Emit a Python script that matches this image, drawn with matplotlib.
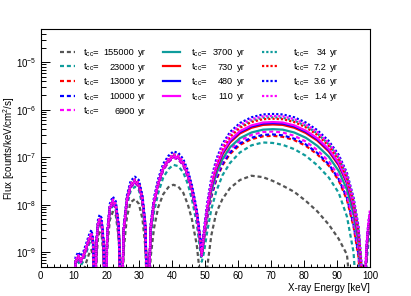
import numpy as np
import matplotlib
matplotlib.use("Agg")
import matplotlib.pyplot as plt
from matplotlib.lines import Line2D
from matplotlib.ticker import FixedLocator, LogFormatterMathtext, MultipleLocator, NullFormatter

plt.rcParams['font.family'] = ['Liberation Sans', 'DejaVu Sans']
plt.rcParams['mathtext.fontset'] = 'custom'
plt.rcParams['mathtext.rm'] = 'Liberation Sans'
plt.rcParams['mathtext.it'] = 'Liberation Sans:italic'
plt.rcParams['mathtext.bf'] = 'Liberation Sans:bold'

# energy grid (keV) the curves were read on
energy_kev = [9.6, 10.6, 11.4, 12.2, 13.0, 13.8, 14.6, 15.4, 15.9, 16.4,
              16.9, 17.4, 17.9, 18.5, 19.1, 19.6,
              20.2, 21.0, 21.9, 22.8, 23.7, 24.5,
              25.2, 26.2, 27.3, 28.6, 29.8, 30.9, 31.8, 32.5,
              33.4, 34.4, 35.7, 37.2, 38.8, 40.3, 41.8, 43.3, 44.7, 45.9, 47.4, 48.4, 48.9,
              49.6, 50.6, 51.8, 53.3, 55.2, 57.5, 60.5, 64.0, 67.5, 70.5, 73.5, 77.0,
              80.5, 84.0, 87.5, 90.5, 93.0, 95.0, 96.5, 97.5, 98.1, 98.9, 99.5, 100.0]

# log10 of flux, low-energy part (9.6 - 48.9 keV); -10.5 = zero (below the frame)
low_gray = [-10.5, -9.60, -9.45, -9.50, -9.40, -9.22, -9.05, -8.95, -9.10, -10.5,
            -9.15, -8.70, -8.58, -8.63, -9.10, -10.5,
            -8.90, -8.32, -8.15, -8.22, -8.70, -10.5,
            -8.95, -8.25, -7.95, -7.88, -7.98, -8.30, -8.90, -10.5,
            -9.10, -8.50, -8.05, -7.78, -7.63, -7.58, -7.62, -7.75, -8.00, -8.30, -8.85, -9.50, -10.5]
low_teal_dash = [-10.5, -9.30, -9.20, -9.28, -9.18, -9.02, -8.85, -8.72, -8.90, -10.5,
                 -8.95, -8.50, -8.39, -8.46, -8.95, -10.5,
                 -8.75, -8.17, -8.02, -8.12, -8.60, -10.5,
                 -8.68, -8.02, -7.71, -7.62, -7.69, -8.02, -8.65, -10.5,
                 -8.70, -8.15, -7.75, -7.43, -7.25, -7.16, -7.19, -7.32, -7.57, -7.88, -8.40, -8.95, -9.20]
low_dash = [-10.5, -9.23, -9.13, -9.21, -9.11, -8.95, -8.78, -8.66, -8.83, -10.5,
            -8.88, -8.45, -8.34, -8.41, -8.88, -10.5,
            -8.68, -8.11, -7.96, -8.06, -8.53, -10.5,
            -8.58, -7.93, -7.63, -7.54, -7.61, -7.93, -8.53, -10.5,
            -8.53, -7.98, -7.58, -7.27, -7.10, -7.01, -7.04, -7.17, -7.41, -7.71, -8.23, -8.78, -9.08]
low_solid = [-10.5, -9.20, -9.10, -9.18, -9.08, -8.92, -8.75, -8.63, -8.80, -10.5,
             -8.85, -8.42, -8.31, -8.38, -8.85, -10.5,
             -8.65, -8.08, -7.93, -8.03, -8.50, -10.5,
             -8.55, -7.90, -7.60, -7.51, -7.58, -7.90, -8.50, -10.5,
             -8.50, -7.95, -7.55, -7.24, -7.07, -6.98, -7.01, -7.14, -7.38, -7.68, -8.20, -8.75, -9.05]
low_dot = [-10.5, -9.16, -9.06, -9.14, -9.04, -8.88, -8.71, -8.59, -8.76, -10.5,
           -8.81, -8.38, -8.27, -8.34, -8.81, -10.5,
           -8.61, -8.04, -7.89, -7.99, -8.46, -10.5,
           -8.51, -7.86, -7.56, -7.47, -7.54, -7.86, -8.46, -10.5,
           -8.46, -7.91, -7.51, -7.20, -7.03, -6.94, -6.97, -7.10, -7.34, -7.64, -8.16, -8.71, -9.01]
low_top = [-10.5, -9.10, -9.00, -9.08, -8.98, -8.82, -8.65, -8.53, -8.70, -10.5,
           -8.75, -8.32, -8.21, -8.28, -8.75, -10.5,
           -8.55, -7.98, -7.83, -7.93, -8.40, -10.5,
           -8.45, -7.80, -7.50, -7.41, -7.48, -7.80, -8.40, -10.5,
           -8.40, -7.85, -7.45, -7.14, -6.97, -6.88, -6.91, -7.04, -7.28, -7.58, -8.10, -8.65, -8.95]

# log10 of flux, main bump (49.6 - 100 keV), one list per t_cc
main_155000 = [-10.5, -9.30, -8.65, -8.17, -7.88, -7.65, -7.48, -7.39, -7.42, -7.50, -7.60, -7.73,
               -7.92, -8.14, -8.42, -8.72, -9.05, -10.5, -10.5, -10.5, -10.5, -10.5, -10.5, -10.5]
main_23000 = [-9.00, -8.55, -8.10, -7.72, -7.38, -7.12, -6.90, -6.75, -6.69, -6.70, -6.74, -6.83,
              -6.97, -7.17, -7.43, -7.75, -8.25, -9.00, -10.5, -10.5, -10.5, -9.30, -8.80, -8.55]
main_13000 = [-8.72, -8.26, -7.84, -7.48, -7.17, -6.93, -6.74, -6.62, -6.56, -6.55, -6.57, -6.64,
              -6.76, -6.94, -7.18, -7.49, -7.90, -8.46, -9.10, -10.0, -10.5, -9.10, -8.60, -8.35]
main_10000 = [-8.70, -8.24, -7.81, -7.45, -7.14, -6.90, -6.71, -6.59, -6.53, -6.52, -6.54, -6.61,
              -6.73, -6.91, -7.15, -7.46, -7.86, -8.42, -9.05, -9.90, -10.5, -9.10, -8.60, -8.35]
main_6900 = [-8.67, -8.20, -7.76, -7.39, -7.08, -6.84, -6.65, -6.53, -6.47, -6.46, -6.48, -6.55,
             -6.67, -6.85, -7.09, -7.40, -7.80, -8.35, -8.95, -9.80, -10.5, -9.05, -8.55, -8.30]
main_3700 = [-8.65, -8.17, -7.72, -7.35, -7.04, -6.79, -6.60, -6.48, -6.42, -6.41, -6.42, -6.48,
             -6.59, -6.76, -6.99, -7.29, -7.68, -8.20, -8.80, -9.60, -10.5, -9.05, -8.55, -8.30]
main_730 = [-8.61, -8.11, -7.64, -7.26, -6.94, -6.69, -6.50, -6.38, -6.32, -6.31, -6.32, -6.38,
            -6.49, -6.65, -6.88, -7.17, -7.55, -8.07, -8.67, -9.50, -10.5, -9.00, -8.50, -8.25]
main_480 = [-8.60, -8.09, -7.62, -7.23, -6.91, -6.66, -6.47, -6.35, -6.29, -6.28, -6.29, -6.35,
            -6.46, -6.62, -6.85, -7.14, -7.52, -8.04, -8.64, -9.47, -10.5, -8.95, -8.45, -8.20]
main_110 = [-8.60, -8.08, -7.60, -7.21, -6.89, -6.64, -6.45, -6.33, -6.27, -6.26, -6.27, -6.33,
            -6.44, -6.60, -6.83, -7.12, -7.50, -8.02, -8.62, -9.45, -10.5, -8.95, -8.45, -8.20]
main_34 = [-8.57, -8.02, -7.52, -7.12, -6.79, -6.54, -6.35, -6.23, -6.17, -6.16, -6.17, -6.23,
           -6.34, -6.50, -6.73, -7.02, -7.40, -7.92, -8.52, -9.37, -10.5, -8.95, -8.45, -8.20]
main_7p2 = [-8.58, -8.04, -7.54, -7.15, -6.82, -6.57, -6.38, -6.26, -6.20, -6.19, -6.20, -6.26,
            -6.37, -6.53, -6.76, -7.05, -7.43, -7.95, -8.55, -9.40, -10.5, -8.95, -8.45, -8.20]
main_3p6 = [-8.50, -7.95, -7.45, -7.05, -6.72, -6.47, -6.28, -6.16, -6.10, -6.09, -6.10, -6.16,
            -6.27, -6.43, -6.66, -6.95, -7.33, -7.85, -8.45, -9.30, -10.5, -8.90, -8.40, -8.15]
main_1p4 = [-8.56, -8.01, -7.51, -7.11, -6.77, -6.52, -6.32, -6.20, -6.14, -6.13, -6.14, -6.20,
            -6.31, -6.47, -6.70, -6.99, -7.37, -7.89, -8.50, -9.35, -10.5, -8.85, -8.35, -8.10]

tcc_labels = ["155000", "23000", "13000", "10000", "6900",
              "3700", "730", "480", "110",
              "34", "7.2", "3.6", "1.4"]
series = [low_gray + main_155000, low_teal_dash + main_23000, low_dash + main_13000,
          low_dash + main_10000, low_dash + main_6900,
          low_solid + main_3700, low_solid + main_730, low_solid + main_480, low_solid + main_110,
          low_dot + main_34, low_dot + main_7p2, low_top + main_3p6, low_dot + main_1p4]

gray, teal, red, blue, mag = '#555555', '#0f9c9c', '#ff0000', '#0000ff', '#ff00ff'
dash = (0, (1.8, 1.3))
dot = (0, (1.0, 0.9))
styles = [(gray, dash), (teal, dash), (red, dash), (blue, dash), (mag, dash),
          (teal, '-'), (red, '-'), (blue, '-'), (mag, '-'),
          (teal, dot), (red, dot), (blue, dot), (mag, dot)]

W, H = 411, 296
fig = plt.figure(figsize=(W / 100, H / 100), dpi=100)
ax = fig.add_axes([40.7 / W, 1 - 266.5 / H, 329.3 / W, 237.5 / H])

x = np.array(energy_kev)
for ylog, (c, ls) in zip(series, styles):
    ax.plot(x, np.power(10.0, np.array(ylog)), color=c, ls=ls, lw=1.6)

ax.set_yscale('log')
ax.set_xlim(0, 100)
ax.set_ylim(5e-10, 5e-5)

decades = [1e-9, 1e-8, 1e-7, 1e-6, 1e-5]
minors = [m * d for d in [1e-10] + decades for m in range(2, 10)]
minors = [v for v in minors if 5e-10 <= v <= 5e-5]
ax.xaxis.set_major_locator(MultipleLocator(10))
ax.xaxis.set_minor_locator(MultipleLocator(2))
ax.yaxis.set_major_locator(FixedLocator(decades))
ax.yaxis.set_major_formatter(LogFormatterMathtext())
ax.yaxis.set_minor_locator(FixedLocator(minors))
ax.yaxis.set_minor_formatter(NullFormatter())

ax.tick_params(axis='x', which='major', direction='in', length=5, width=0.7, labelsize=7, pad=3)
ax.tick_params(axis='x', which='minor', direction='in', length=2.5, width=0.7)
ax.tick_params(axis='y', which='major', direction='in', length=6.5, width=0.7, labelsize=7, pad=3)
ax.tick_params(axis='y', which='minor', direction='in', length=3.5, width=0.7)
for s in ax.spines.values():
    s.set_linewidth(0.8)

ax.set_xlabel('X-ray Energy [keV]', fontsize=7, loc='right', labelpad=2)
fig.text(9.5 / W, 1 - 148 / H, r'Flux [counts/keV/cm$^{2}$/s]', fontsize=7,
         rotation=90, ha='center', va='center')

# legend, laid out like the ROOT one (3 columns, numbers right-aligned)
rows_px = [51.7, 66.3, 81.0, 95.7, 110.3]
cols_px = [(60, 75, 82.7, 134.5, 138.3),
           (163, 180, 191.0, 232.7, 236.7),
           (262, 278, 293.3, 326.7, 330.0)]
col_of = [0] * 5 + [1] * 4 + [2] * 4
row_of = [0, 1, 2, 3, 4, 0, 1, 2, 3, 0, 1, 2, 3]
for i, (c, ls) in enumerate(styles):
    x0, x1, xt, xn, xy = cols_px[col_of[i]]
    yc = rows_px[row_of[i]]
    fig.add_artist(Line2D([x0 / W, x1 / W], [1 - yc / H, 1 - yc / H],
                          transform=fig.transFigure, color=c, ls=ls, lw=1.6))
    yb = 1 - (yc + 3.4) / H
    fig.text(xt / W, yb, r't$_{\mathregular{cc}}$=', fontsize=6.8, ha='left', va='baseline')
    fig.text(xn / W, yb, tcc_labels[i], fontsize=6.6, ha='right', va='baseline')
    fig.text(xy / W, yb, 'yr', fontsize=6.8, ha='left', va='baseline')

fig.savefig('out.png', dpi=100)
